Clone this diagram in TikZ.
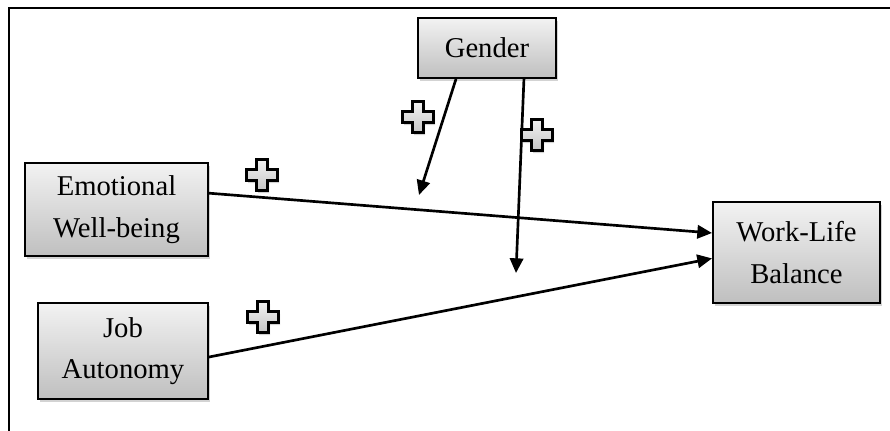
\documentclass[tikz,border=0pt]{standalone}
\usepackage{fontspec}
\setmainfont{Liberation Serif}
\usetikzlibrary{arrows.meta,shadows}
\tikzset{every picture/.style={line width=0.75pt}}
\tikzset{
  varbox/.style={draw, line width=1.5pt, top color=gray!10, bottom color=gray!50,
    drop shadow={shadow xshift=1.5pt, shadow yshift=-2.5pt, opacity=0.35},
    align=center, inner sep=0pt, font=\fontsize{21.5}{31}\selectfont},
  effect/.style={line width=2pt, -{Triangle[length=11pt,width=10pt]}},
  plussign/.pic={
    \draw[line width=1.8pt, top color=gray!10, bottom color=gray!45,
      drop shadow={shadow xshift=1.2pt, shadow yshift=-2pt, opacity=0.35}]
      (-5.5,-15.5) -- (5.5,-15.5) -- (5.5,-5.5) -- (15.5,-5.5) -- (15.5,5.5) -- (5.5,5.5)
      -- (5.5,15.5) -- (-5.5,15.5) -- (-5.5,5.5) -- (-15.5,5.5) -- (-15.5,-5.5) -- (-5.5,-5.5) -- cycle;
  }
}
\begin{document}
\begin{tikzpicture}[x=0.75pt,y=0.75pt,yscale=-1,xscale=1]
\useasboundingbox (0,0) rectangle (890,431);

%Frame
\draw[line width=1.5pt] (9,431) -- (9,8) -- (890,8);

%Shape: Boxes
\node[varbox, minimum width=103.5pt, minimum height=45pt] (gender) at (487,48) {Gender};
\node[varbox, minimum width=137.25pt, minimum height=69.75pt] (emo) at (116.5,209.5) {Emotional\\Well-being};
\node[varbox, minimum width=127.5pt, minimum height=72pt] (job) at (123,351) {Job\\Autonomy};
\node[varbox, minimum width=125.25pt, minimum height=75.75pt] (wlb) at (796.5,252.5) {Work-Life\\Balance};

%Free ends of the moderator arrows
\coordinate (modA) at (419,195);
\coordinate (modB) at (516,273);

%Straight Lines
\draw[effect] (emo.10) -- (wlb.167);
\draw[effect] (job.-4) -- (wlb.184);
\draw[effect] (gender.225) -- (modA);
\draw[effect] (gender.-40) -- (modB);

%Plus signs
\pic at (418,117) {plussign};
\pic at (537,135) {plussign};
\pic at (262,175) {plussign};
\pic at (263,317) {plussign};

\end{tikzpicture}
\end{document}
